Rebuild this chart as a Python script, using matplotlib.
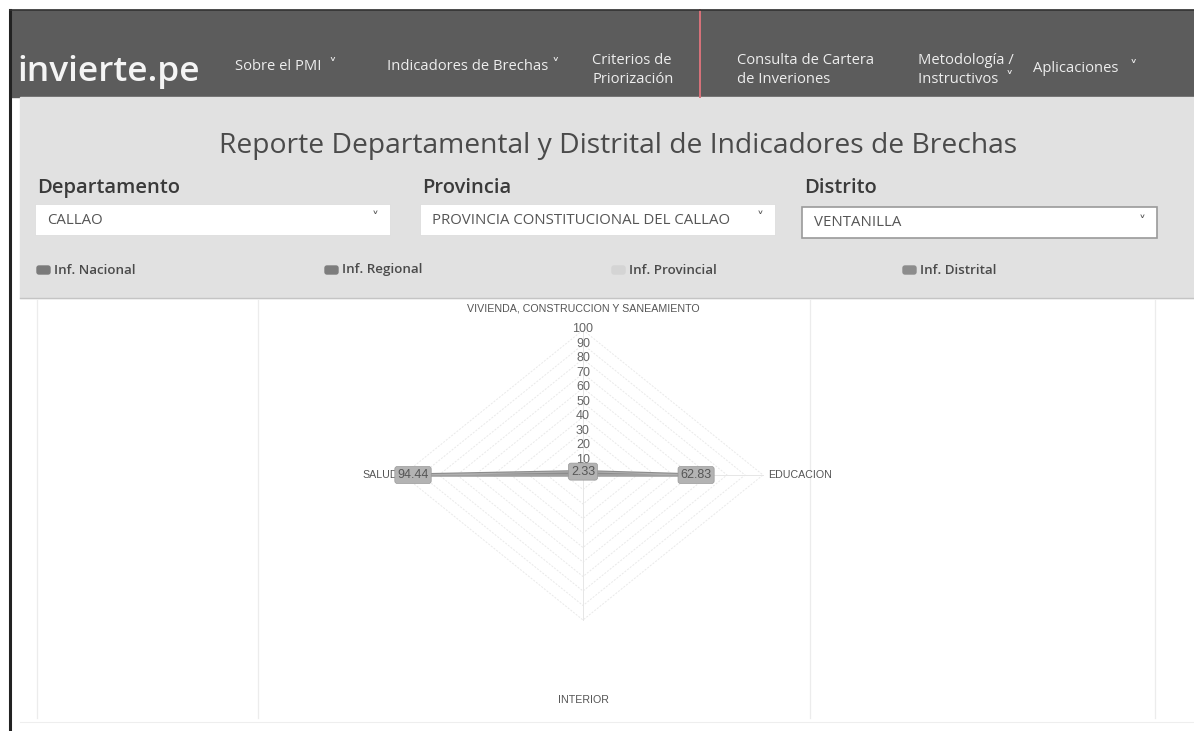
import numpy as np
import matplotlib
matplotlib.use("Agg")
import matplotlib.pyplot as plt
from matplotlib.patches import Rectangle, FancyBboxPatch

# radar data (clockwise from the top, as the web chart draws it)
categories = ["VIVIENDA, CONSTRUCCION Y SANEAMIENTO", "EDUCACION", "INTERIOR", "SALUD"]
values = [2.33, 62.83, 0.0, 94.44]
ticks = [10, 20, 30, 40, 50, 60, 70, 80, 90, 100]

nav_items = ["Sobre el PMI  \u02c5", "Indicadores de Brechas \u02c5", "Criterios de\nPriorización",
             "Consulta de Cartera\nde Inveriones", "Metodología /\nInstructivos  \u02c5", "Aplicaciones   \u02c5"]
nav_x = [235, 387, 592, 737, 918, 1033]

field_names = ["Departamento", "Provincia", "Distrito"]
field_values = ["CALLAO", "PROVINCIA CONSTITUCIONAL DEL CALLAO", "VENTANILLA"]
field_x = [35, 420, 802]

legend_names = ["Inf. Nacional", "Inf. Regional", "Inf. Provincial", "Inf. Distrital"]
legend_colors = ["#7a7a7a", "#7d7d7d", "#d4d4d4", "#8c8c8c"]
legend_x = [37, 325, 612, 903]

UI = ["Open Sans", "DejaVu Sans"]
CH = ["Liberation Sans", "DejaVu Sans"]

W, H = 1194, 731
fig = plt.figure(figsize=(W / 100, H / 100), dpi=100)
fig.patch.set_facecolor("white")

# page chrome in pixel coordinates
pg = fig.add_axes([0, 0, 1, 1])
pg.set_xlim(0, W)
pg.set_ylim(H, 0)
pg.axis("off")

pg.add_patch(Rectangle((10, 10), W - 10, 87, color="#5c5c5c", zorder=1))
pg.plot([10, 10], [10, H], color="#222222", lw=2.2, zorder=5)
pg.plot([10, W], [10, 10], color="#333333", lw=1.2, zorder=5)
pg.plot([700, 700], [10, 97], color="#d9727a", lw=1.4, zorder=4)

pg.text(17, 81, "invierte.pe", color="#f4f4f4", fontsize=25.5, family=UI,
        fontweight="semibold", va="baseline", zorder=3)
for x, t in zip(nav_x, nav_items):
    y = 67 if "\n" not in t else 70
    pg.text(x, y, t, color="#eeeeee", fontsize=10.6, family=UI, va="center",
            linespacing=1.4, zorder=3)

# grey filter panel
pg.add_patch(Rectangle((20, 97), W - 20, 201, color="#e1e1e1", zorder=1))
pg.plot([20, W], [298, 298], color="#c4c4c4", lw=1, zorder=2)
pg.text(618, 146, "Reporte Departamental y Distrital de Indicadores de Brechas",
        ha="center", va="center", fontsize=20.3, color="#4a4a4a", family=UI, zorder=3)

for x, name, val in zip(field_x, field_names, field_values):
    pg.text(x + 2, 188, name, fontsize=14.5, family=UI, fontweight="semibold",
            color="#3a3a3a", va="center", zorder=3)
    shadow = name == "Distrito"
    y0 = 207 if shadow else 204
    pg.add_patch(Rectangle((x, y0), 355, 31, facecolor="white",
                           edgecolor="#9a9a9a" if shadow else "#dddddd",
                           lw=1.2 if shadow else 0.6, zorder=2))
    pg.text(x + 12, y0 + 16, val, fontsize=10.8, family=UI, color="#555555",
            va="center", zorder=3)
    pg.text(x + 340, y0 + 15, "\u02c5", fontsize=10, family=UI, color="#555555",
            ha="center", va="center", zorder=3)

for x, name, c in zip(legend_x, legend_names, legend_colors):
    pg.add_patch(FancyBboxPatch((x, 266), 13, 8, boxstyle="round,pad=0,rounding_size=2",
                                color=c, zorder=3))
    pg.text(x + 17, 270, name, fontsize=9.6, family=UI, fontweight="semibold",
            color="#4a4a4a", va="center", zorder=3)

# faint column rules under the panel
for x in [37, 258, 810, 1155]:
    pg.plot([x, x], [300, 718], color="#ececec", lw=0.9, zorder=1)
pg.plot([20, W], [722, 722], color="#eeeeee", lw=0.8, zorder=1)

# radar chart: centre at (583, 475) px, 1.8 px/unit across, 1.45 px/unit up
cx, cy = 583, 475
sx, sy = 1.8, 1.45
lim = 160
ax = fig.add_axes([(cx - lim * sx) / W, (H - cy - lim * sy) / H,
                   2 * lim * sx / W, 2 * lim * sy / H])
ax.set_xlim(-lim, lim)
ax.set_ylim(-lim, lim)
ax.axis("off")
ax.patch.set_alpha(0)

n = len(categories)
ang = np.pi / 2 - np.arange(n) * 2 * np.pi / n
ux, uy = np.cos(ang), np.sin(ang)

for r in ticks:
    ax.plot(np.append(r * ux, r * ux[0]), np.append(r * uy, r * uy[0]),
            color="#e9e9e9", lw=0.7, ls=(0, (2, 1.5)), zorder=1)
for i in range(n):
    ax.plot([0, 100 * ux[i]], [0, 100 * uy[i]], color="#e6e6e6", lw=0.7, zorder=1)
for r in ticks:
    ax.text(0, r + 0.5, str(r), ha="center", va="center", fontsize=9,
            family=CH, color="#666666", zorder=3)

label_r = [115, 100, 155, 100]
label_ha = ["center", "left", "center", "right"]
for i, name in enumerate(categories):
    ax.text(label_r[i] * ux[i] + (3 if label_ha[i] == "left" else -3 if label_ha[i] == "right" else 0),
            label_r[i] * uy[i], name, ha=label_ha[i], va="center", fontsize=7.7,
            family=CH, color="#555555", clip_on=False, zorder=3)

px = np.array(values) * ux
py = np.array(values) * uy
ax.fill(px, py, color="#bdbdbd", alpha=0.3, zorder=2)
ax.plot(np.append(px, px[0]), np.append(py, py[0]), color="#8c8c8c", lw=2.4, zorder=4)
ax.plot(np.append(px, px[0]), np.append(py, py[0]), color="#b0b0b0", lw=0.8, zorder=4)
for v, x, y in zip(values, px, py):
    if v > 0:
        ax.text(x, y, f"{v:.2f}", ha="center", va="center", fontsize=9, family=CH,
                color="#555555", zorder=5,
                bbox=dict(boxstyle="round,pad=0.2", fc="#b3b3b3", ec="#999999", lw=0.5))

fig.savefig("out.png", dpi=100)
